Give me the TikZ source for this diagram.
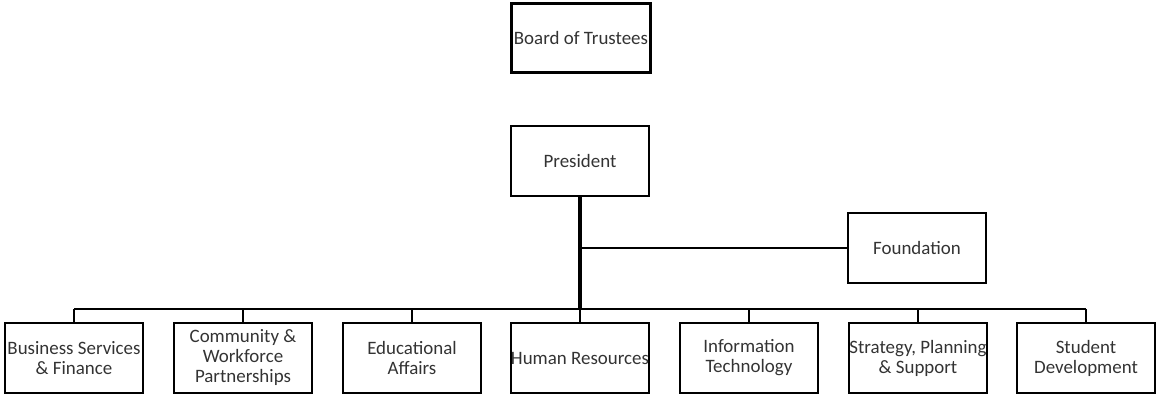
\documentclass[tikz,border=0pt]{standalone}
\usepackage{fontspec}
\setmainfont{Carlito}

\begin{document}
\begin{tikzpicture}[x=0.75pt, y=-0.75pt,
	unit/.style={draw, line width=1.6pt, minimum width=104pt, minimum height=52pt,
		inner sep=0pt, align=center, font=\fontsize{14.2}{15}\selectfont, text=black!80},
	link/.style={line width=1.5pt}]
	\useasboundingbox (0,0) rectangle (1156,396);
	% top of the chart
	\node[unit, line width=2.2pt] (board) at (581,38) {Board of Trustees};
	\node[unit] (president) at (580,161) {President};
	\node[unit] (foundation) at (917,248) {Foundation};
	% units under the president
	\node[unit] (bsf) at (74,358) {Business Services\\\& Finance};
	\node[unit] (cwp) at (243,358) {Community \&\\Workforce\\Partnerships};
	\node[unit] (edu) at (412,358) {Educational\\Affairs};
	\node[unit] (hr) at (580,358) {Human Resources};
	\node[unit] (it) at (749,358) {Information\\Technology};
	\node[unit] (sps) at (918,358) {Strategy, Planning\\\& Support};
	\node[unit] (sd) at (1086,358) {Student\\Development};
	% trunk and branch to the foundation
	\coordinate (bus) at (580,309);
	\draw[line width=2.8pt] (president.south) -- (bus);
	\draw[link] (president.south |- foundation.west) -- (foundation.west);
	% bus line and drops
	\draw[link] (bsf.north |- bus) -- (sd.north |- bus);
	\foreach \u in {bsf,cwp,edu,hr,it,sps,sd}
		\draw[link] (\u.north |- bus) -- (\u.north);
\end{tikzpicture}
\end{document}
